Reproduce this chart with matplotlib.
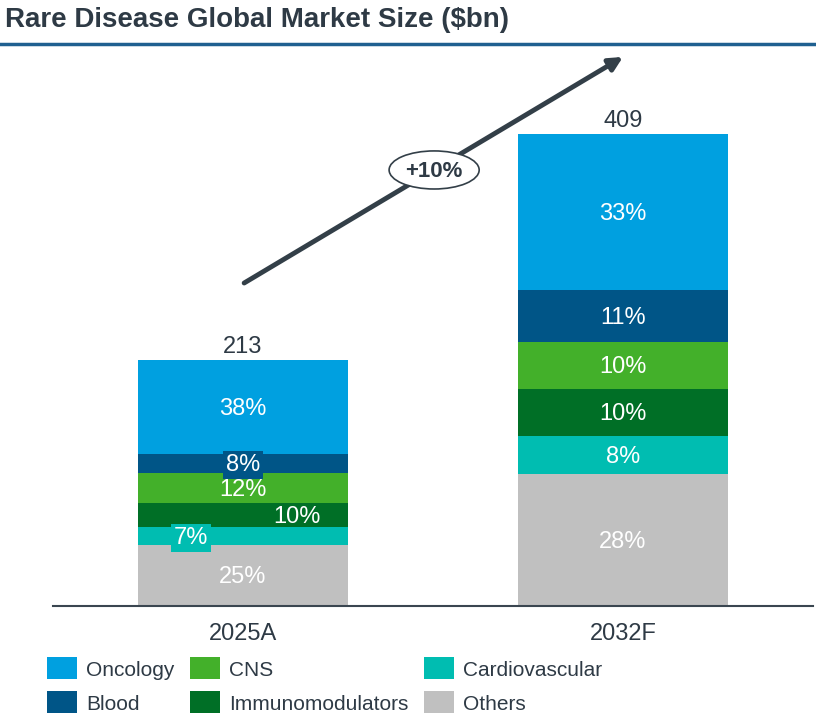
import numpy as np
import matplotlib
matplotlib.use('Agg')
import matplotlib.pyplot as plt
from matplotlib.patches import Ellipse, Rectangle
from matplotlib.lines import Line2D

plt.rcParams['font.family'] = ['Liberation Sans', 'DejaVu Sans']

# data
years = ['2025A', '2032F']
totals = [213, 409]
segments = ['Others', 'Cardiovascular', 'Immunomodulators', 'CNS', 'Blood', 'Oncology']
shares = {
    'Others': [25, 28],
    'Cardiovascular': [7, 8],
    'Immunomodulators': [10, 10],
    'CNS': [12, 10],
    'Blood': [8, 11],
    'Oncology': [38, 33],
}
cagr_label = '+10%'

colors = {
    'Oncology': '#00A0E0',
    'Blood': '#005587',
    'CNS': '#43B02A',
    'Immunomodulators': '#006F26',
    'Cardiovascular': '#00BDB1',
    'Others': '#C0C0C0',
}
txt = '#2E3A45'

# label x-offsets (first bar only, to avoid clutter like the original)
offsets = {('Immunomodulators', 0): 0.142, ('Cardiovascular', 0): -0.137}
boxed = {('Blood', 0), ('Cardiovascular', 0)}

fig = plt.figure(figsize=(8.16, 7.26), dpi=100)
ax = fig.add_axes([53/816, 120/726, 760/816, 556/726])

x = np.arange(len(years))
bottom = np.zeros(len(years))
for seg in segments:
    vals = np.array(totals) * np.array(shares[seg]) / 100
    ax.bar(x, vals, width=0.553, bottom=bottom, color=colors[seg], linewidth=0)
    for i in range(len(years)):
        cx = x[i] + offsets.get((seg, i), 0)
        cy = bottom[i] + vals[i] / 2 - 1.5
        kw = {}
        if (seg, i) in boxed:
            kw['bbox'] = dict(boxstyle='square,pad=0.12', fc=colors[seg], ec='none')
        ax.text(cx, cy, f'{shares[seg][i]}%', ha='center', va='center',
                color='white', fontsize=17, **kw)
    bottom += vals

for i, t in enumerate(totals):
    ax.text(x[i], t + 2, str(t), ha='center', va='bottom', color=txt, fontsize=17)

ax.set_xlim(-0.5, 1.5)
ax.set_ylim(0, 482)
ax.set_xticks(x)
ax.set_xticklabels(years, fontsize=17, color=txt)
ax.tick_params(axis='x', length=0, pad=12)
ax.set_yticks([])
for s in ['top', 'right', 'left']:
    ax.spines[s].set_visible(False)
ax.spines['bottom'].set_color('#3A4650')
ax.spines['bottom'].set_linewidth(1.5)

# growth arrow
ax.annotate('', xy=(1.0, 476), xytext=(0.003, 280),
            arrowprops=dict(arrowstyle='-|>,head_length=0.8,head_width=0.4',
                            color='#333F48', lw=3.5, shrinkA=0, shrinkB=0))
ax.add_patch(Ellipse((0.503, 378), 0.237, 33, fc='white', ec='#333F48', lw=1.2, zorder=5))
ax.text(0.503, 377, cagr_label, ha='center', va='center', fontsize=16,
        fontweight='bold', color=txt, zorder=6)

# title and rule
fig.text(5/816, 1 - 20/726, 'Rare Disease Global Market Size ($bn)', ha='left', va='center',
         fontsize=20, fontweight='bold', color=txt)
fig.add_artist(Line2D([0, 1], [1 - 44/726, 1 - 44/726], color='#1F6090', lw=2.5))

# legend
leg_items = [('Oncology', 47, 657), ('Blood', 47, 691),
             ('CNS', 190, 657), ('Immunomodulators', 190, 691),
             ('Cardiovascular', 424, 657), ('Others', 424, 691)]
for name, px, py in leg_items:
    fig.add_artist(Rectangle((px/816, 1 - (py + 22)/726), 30/816, 22/726,
                             fc=colors[name], ec='none', transform=fig.transFigure))
    fig.text((px + 39)/816, 1 - (py + 13)/726, name, ha='left', va='center',
             fontsize=15, color=txt)

fig.savefig('out.png', dpi=100)
